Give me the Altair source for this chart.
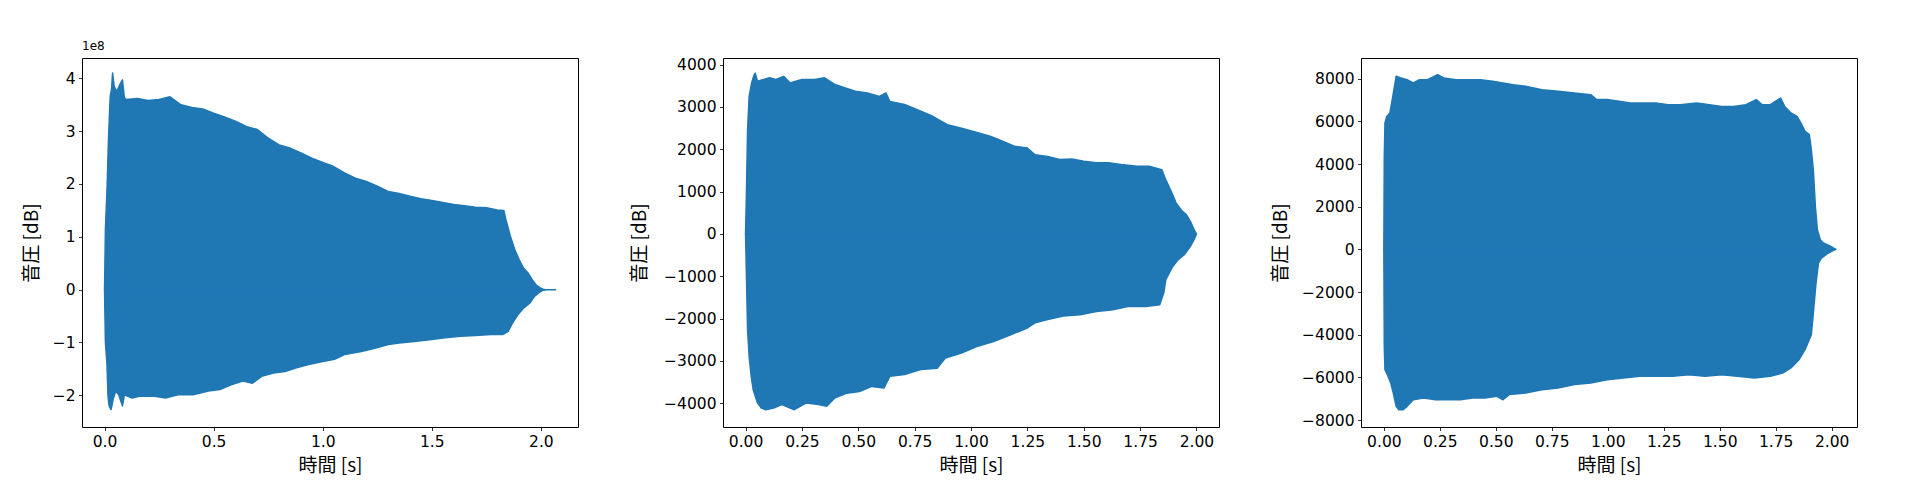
import altair as alt
import pandas as pd

FONT = "Noto Sans CJK JP"
LABEL_FONT = "DejaVu Sans"
BLUE = "#1f77b4"
X_TITLE = "時間 [s]"
Y_TITLE = "音圧 [dB]"
OFFSET_TEXT = ["1e8"]

# ---------- panel 1 (values in units of 1e8) ----------
t1_up = [0.0, 0.004, 0.012, 0.018, 0.026, 0.032, 0.037, 0.044, 0.056, 0.07, 0.082, 0.091,
         0.1, 0.15, 0.2, 0.25, 0.3, 0.35, 0.4, 0.45, 0.5, 0.55, 0.6, 0.65, 0.7, 0.75, 0.8,
         0.85, 0.9, 0.95, 1.0, 1.05, 1.1, 1.15, 1.2, 1.25, 1.3, 1.35, 1.4, 1.45, 1.5, 1.55,
         1.6, 1.65, 1.7, 1.75, 1.8, 1.83, 1.84, 1.86, 1.88, 1.9, 1.92, 1.94, 1.96, 1.98,
         2.0, 2.01, 2.02, 2.067]
v1_up = [0.0, 1.14, 1.96, 2.84, 3.66, 3.79, 4.1, 3.85, 3.75, 3.88, 3.97, 3.63,
         3.6, 3.62, 3.58, 3.6, 3.65, 3.5, 3.45, 3.42, 3.34, 3.27, 3.19, 3.09, 3.03, 2.87, 2.74,
         2.68, 2.59, 2.49, 2.41, 2.33, 2.21, 2.11, 2.05, 1.96, 1.86, 1.82, 1.77, 1.72, 1.69, 1.65,
         1.61, 1.59, 1.56, 1.55, 1.51, 1.5, 1.32, 1.01, 0.76, 0.57, 0.41, 0.32, 0.19, 0.08,
         0.025, 0.01, 0.0, 0.0]
t1_lo = [0.0, 0.004, 0.011, 0.016, 0.021, 0.03, 0.039, 0.051, 0.065, 0.082, 0.091, 0.126,
         0.16, 0.23, 0.28, 0.336, 0.406, 0.476, 0.529, 0.58, 0.634, 0.678, 0.72, 0.774, 0.827,
         0.88, 0.93, 1.0, 1.054, 1.1, 1.177, 1.247, 1.3, 1.35, 1.42, 1.49, 1.56, 1.63, 1.7,
         1.77, 1.825, 1.85, 1.87, 1.895, 1.92, 1.95, 1.97, 2.0, 2.01, 2.02]
v1_lo = [0.0, -1.0, -1.39, -2.02, -2.2, -2.27, -2.08, -1.92, -1.99, -2.2, -1.99, -2.05,
         -2.02, -2.02, -2.05, -1.99, -1.99, -1.92, -1.89, -1.8, -1.73, -1.77, -1.64, -1.58, -1.55,
         -1.48, -1.42, -1.36, -1.32, -1.23, -1.17, -1.1, -1.04, -1.01, -0.98, -0.95, -0.91, -0.88, -0.87,
         -0.85, -0.85, -0.79, -0.63, -0.47, -0.35, -0.25, -0.13, -0.03, -0.01, 0.0]
x1_domain = [-0.1033, 2.17]
y1_domain = [-2.6, 4.385]
x1_ticks = [0.0, 0.5, 1.0, 1.5, 2.0]
y1_ticks = [-2, -1, 0, 1, 2, 3, 4]

# ---------- panel 2 ----------
t2_up = [0.0, 0.004, 0.009, 0.016, 0.027, 0.038, 0.043, 0.053, 0.08, 0.107, 0.134, 0.17, 0.197,
         0.25, 0.306, 0.35, 0.397, 0.442, 0.487, 0.54, 0.594, 0.623, 0.64, 0.705, 0.759, 0.83,
         0.895, 0.958, 1.03, 1.085, 1.14, 1.194, 1.25, 1.284, 1.34, 1.393, 1.447, 1.5, 1.556,
         1.61, 1.665, 1.737, 1.79, 1.846, 1.864, 1.891, 1.91, 1.937, 1.955, 1.973, 1.99, 2.0]
v2_up = [0, 970, 2460, 3250, 3570, 3760, 3800, 3610, 3650, 3690, 3650, 3720, 3570,
         3650, 3650, 3690, 3530, 3450, 3370, 3330, 3250, 3330, 3130, 3060, 2940, 2780,
         2580, 2500, 2390, 2310, 2190, 2070, 2030, 1870, 1830, 1760, 1770, 1720, 1680,
         1680, 1640, 1600, 1600, 1520, 1280, 970, 730, 540, 460, 300, 100, 0]
t2_lo = [0.0, 0.004, 0.009, 0.016, 0.025, 0.034, 0.053, 0.07, 0.089, 0.125, 0.161, 0.216,
         0.27, 0.324, 0.36, 0.397, 0.45, 0.505, 0.56, 0.614, 0.64, 0.705, 0.777, 0.85, 0.886,
         0.958, 1.03, 1.1, 1.176, 1.25, 1.284, 1.34, 1.41, 1.484, 1.556, 1.63, 1.7, 1.774,
         1.837, 1.855, 1.864, 1.891, 1.918, 1.946, 1.973, 1.99, 2.0]
v2_lo = [0, -1000, -2260, -2890, -3360, -3680, -3990, -4110, -4150, -4110, -4030, -4150,
         -3990, -4030, -4070, -3870, -3760, -3720, -3600, -3640, -3360, -3320, -3200, -3170, -2930,
         -2810, -2650, -2540, -2380, -2220, -2100, -2020, -1940, -1910, -1830, -1790, -1710, -1710,
         -1670, -1390, -1080, -800, -610, -490, -290, -130, 0]
x2_domain = [-0.1, 2.1]
y2_domain = [-4559, 4157]
x2_ticks = [0.0, 0.25, 0.5, 0.75, 1.0, 1.25, 1.5, 1.75, 2.0]
y2_ticks = [-4000, -3000, -2000, -1000, 0, 1000, 2000, 3000, 4000]

# ---------- panel 3 ----------
t3_up = [0.0, 0.002, 0.005, 0.013, 0.027, 0.04, 0.055, 0.077, 0.104, 0.131, 0.159, 0.195,
         0.24, 0.268, 0.323, 0.377, 0.432, 0.485, 0.532, 0.578, 0.633, 0.706, 0.778, 0.851,
         0.924, 0.95, 0.997, 1.05, 1.1, 1.16, 1.214, 1.27, 1.324, 1.398, 1.453, 1.508, 1.562,
         1.617, 1.663, 1.69, 1.726, 1.772, 1.79, 1.818, 1.845, 1.863, 1.881, 1.9, 1.909, 1.918,
         1.927, 1.936, 1.949, 1.963, 1.99, 2.018]
v3_up = [0, 4360, 5920, 6230, 6390, 7170, 8110, 8030, 7950, 7800, 7950, 7950,
         8190, 8030, 7950, 7950, 7950, 7880, 7800, 7720, 7640, 7480, 7410, 7330,
         7250, 7020, 7020, 6940, 6860, 6860, 6860, 6780, 6780, 6860, 6780, 6700, 6700,
         6780, 7020, 6780, 6780, 7090, 6700, 6390, 6230, 5920, 5530, 5380, 4670, 3730,
         2020, 920, 450, 300, 170, 0]
t3_lo = [0.0, 0.002, 0.005, 0.016, 0.031, 0.042, 0.055, 0.067, 0.086, 0.104, 0.131, 0.177,
         0.232, 0.286, 0.341, 0.396, 0.45, 0.505, 0.532, 0.56, 0.633, 0.706, 0.778, 0.851,
         0.924, 0.997, 1.07, 1.143, 1.216, 1.289, 1.362, 1.435, 1.508, 1.58, 1.654, 1.726,
         1.781, 1.818, 1.854, 1.881, 1.909, 1.918, 1.93, 1.941, 1.954, 1.981, 2.008, 2.018]
v3_lo = [0, -4550, -5640, -5880, -6270, -6730, -7360, -7520, -7520, -7360, -7050, -6970,
         -7050, -7050, -7050, -6970, -6970, -6890, -7050, -6810, -6730, -6580, -6500, -6340,
         -6270, -6110, -6030, -5950, -5950, -5950, -5880, -5950, -5880, -5950, -6030, -5950,
         -5800, -5560, -5170, -4700, -4000, -2980, -1580, -640, -410, -200, -50, 0]
x3_domain = [-0.102, 2.113]
y3_domain = [-8328, 8969]
x3_ticks = [0.0, 0.25, 0.5, 0.75, 1.0, 1.25, 1.5, 1.75, 2.0]
y3_ticks = [-8000, -6000, -4000, -2000, 0, 2000, 4000, 6000, 8000]


def panel(t_up, v_up, t_lo, v_lo, xdom, ydom, xticks, yticks, xfmt, yfmt, yext, offset=None):
    up = pd.DataFrame({"t": t_up, "v": v_up})
    lo = pd.DataFrame({"t": t_lo, "v": v_lo})
    xenc = alt.X("t:Q", scale=alt.Scale(domain=xdom, nice=False, zero=False),
                 axis=alt.Axis(values=xticks, format=xfmt, title=X_TITLE))
    yenc = alt.Y("v:Q", scale=alt.Scale(domain=ydom, nice=False, zero=False),
                 axis=alt.Axis(values=yticks, format=yfmt, title=Y_TITLE,
                               minExtent=yext, maxExtent=yext))
    area_kw = dict(color=BLUE, stroke=BLUE, strokeWidth=1.5, opacity=1, strokeJoin="round")
    a_up = alt.Chart(up).mark_area(**area_kw).encode(x=xenc, y=yenc, y2=alt.datum(0))
    a_lo = alt.Chart(lo).mark_area(**area_kw).encode(x=xenc, y=yenc, y2=alt.datum(0))
    layers = [a_up, a_lo]
    if offset:
        txt = alt.Chart(pd.DataFrame({"s": offset})).mark_text(
            align="left", baseline="bottom", fontSize=12, font=LABEL_FONT, color="black"
        ).encode(x=alt.value(0), y=alt.value(-5), text="s:N")
        layers.append(txt)
    return alt.layer(*layers).properties(width=496, height=369)


p1 = panel(t1_up, v1_up, t1_lo, v1_lo, x1_domain, y1_domain, x1_ticks, y1_ticks, ".1f", "d", 31, OFFSET_TEXT)
p2 = panel(t2_up, v2_up, t2_lo, v2_lo, x2_domain, y2_domain, x2_ticks, y2_ticks, ".2f", "d", 64)
p3 = panel(t3_up, v3_up, t3_lo, v3_lo, x3_domain, y3_domain, x3_ticks, y3_ticks, ".2f", "d", 61)

chart = alt.hconcat(p1, p2, p3, spacing=50).properties(
    padding={"left": 13, "top": 31, "right": 5, "bottom": 5}
).configure_view(
    stroke="black", strokeWidth=1
).configure_axis(
    grid=False, domain=False, tickColor="black", tickSize=3.5, tickWidth=0.8,
    labelFont=LABEL_FONT, labelFontSize=15.5, labelColor="black", labelPadding=3.5,
    titleFont=FONT, titleFontSize=19, titleFontWeight="normal", titleColor="black",
    titlePadding=10,
).configure_axisX(titlePadding=7)

chart.save("out.html", embed_options={"renderer": "svg", "actions": False})
